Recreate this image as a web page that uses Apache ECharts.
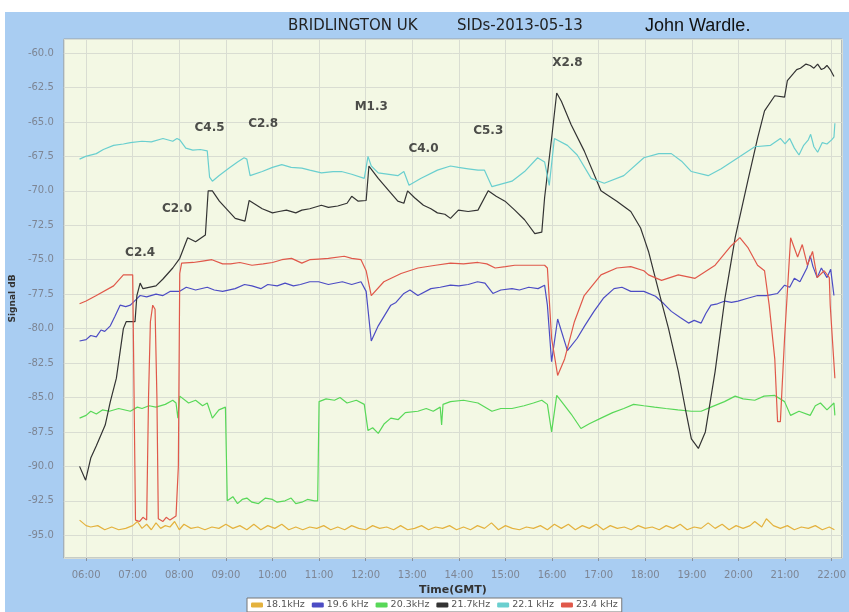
<!DOCTYPE html>
<html>
<head>
<meta charset="utf-8">
<script src="https://cdn.jsdelivr.net/npm/echarts@6/dist/echarts.min.js"></script>
<style>
  html, body { margin: 0; padding: 0; background: #fff; }
  #panel { position: absolute; left: 5px; top: 12px; width: 844px; height: 600px; background: #a9cdf2; }
  #chart { position: absolute; left: 0; top: 0; width: 849px; height: 612px; }
</style>
</head>
<body>
<div id="panel"></div>
<div id="chart"></div>
<script>
// time in hours (GMT), signal in dB
const seriesNames = ['18.1kHz', '19.6 kHz', '20.3kHz', '21.7kHz', '22.1 kHz', '23.4 kHz']
const seriesColors = ['#e4b23e', '#4c4cc4', '#58d858', '#333333', '#6acfcf', '#e0584a']

const hourTicks = [6, 7, 8, 9, 10, 11, 12, 13, 14, 15, 16, 17, 18, 19, 20, 21, 22]

const flareLabels = ['C2.4', 'C2.0', 'C4.5', 'C2.8', 'M1.3', 'C4.0', 'C5.3', 'X2.8']
const flareTimes = [7.16, 7.95, 8.65, 9.80, 12.12, 13.24, 14.63, 16.33]
const flareLevels = [-74.53, -71.34, -65.45, -65.16, -63.92, -66.98, -65.67, -60.73]

const khz181 = [
  [5.86, -93.9], [6.0, -94.3], [6.1, -94.4], [6.25, -94.3], [6.4, -94.6], [6.55, -94.4], [6.7, -94.6], [6.85, -94.5],
  [7.0, -94.3], [7.1, -94.0], [7.2, -94.5], [7.3, -94.2], [7.4, -94.6], [7.5, -94.1], [7.6, -94.5], [7.7, -94.3],
  [7.8, -94.4], [7.9, -94.0], [8.0, -94.6], [8.1, -94.2], [8.25, -94.5], [8.4, -94.4], [8.55, -94.6], [8.7, -94.4],
  [8.85, -94.5], [9.0, -94.2], [9.15, -94.5], [9.3, -94.3], [9.45, -94.6], [9.6, -94.2], [9.75, -94.6], [9.9, -94.3],
  [10.05, -94.5], [10.2, -94.2], [10.35, -94.6], [10.5, -94.4], [10.65, -94.6], [10.8, -94.4], [10.95, -94.5], [11.1, -94.3],
  [11.25, -94.6], [11.4, -94.4], [11.55, -94.6], [11.7, -94.3], [11.85, -94.5], [12.0, -94.6], [12.15, -94.3], [12.3, -94.5],
  [12.45, -94.4], [12.6, -94.6], [12.75, -94.3], [12.9, -94.6], [13.05, -94.5], [13.2, -94.3], [13.35, -94.6], [13.5, -94.4],
  [13.65, -94.5], [13.8, -94.3], [13.95, -94.6], [14.1, -94.4], [14.25, -94.6], [14.4, -94.3], [14.55, -94.5], [14.7, -94.1],
  [14.85, -94.6], [15.0, -94.3], [15.15, -94.5], [15.3, -94.6], [15.45, -94.4], [15.6, -94.5], [15.75, -94.3], [15.9, -94.6],
  [16.05, -94.2], [16.2, -94.5], [16.35, -94.2], [16.5, -94.6], [16.65, -94.3], [16.8, -94.5], [16.95, -94.2], [17.1, -94.6],
  [17.25, -94.3], [17.4, -94.5], [17.55, -94.4], [17.7, -94.6], [17.85, -94.3], [18.0, -94.5], [18.15, -94.4], [18.3, -94.6],
  [18.45, -94.3], [18.6, -94.5], [18.75, -94.2], [18.9, -94.6], [19.05, -94.4], [19.2, -94.5], [19.35, -94.1], [19.5, -94.5],
  [19.65, -94.2], [19.8, -94.6], [19.95, -94.3], [20.1, -94.5], [20.25, -94.3], [20.35, -94.0], [20.5, -94.4], [20.6, -93.8],
  [20.75, -94.3], [20.9, -94.5], [21.05, -94.3], [21.2, -94.6], [21.35, -94.4], [21.5, -94.5], [21.65, -94.3], [21.8, -94.6],
  [21.95, -94.4], [22.06, -94.6]
]

const khz196 = [
  [5.86, -80.9], [6.0, -80.8], [6.1, -80.5], [6.22, -80.6], [6.32, -80.1], [6.40, -80.2], [6.52, -79.8], [6.62, -79.1],
  [6.73, -78.3], [6.85, -78.4], [6.95, -78.3], [7.07, -77.9], [7.16, -77.6], [7.3, -77.7], [7.5, -77.5], [7.65, -77.6],
  [7.8, -77.3], [8.0, -77.3], [8.15, -77.0], [8.35, -77.2], [8.6, -77.0], [8.75, -77.2], [8.93, -77.3], [9.2, -77.1],
  [9.4, -76.8], [9.56, -76.9], [9.75, -77.1], [9.9, -76.8], [10.1, -76.9], [10.27, -76.7], [10.45, -76.9], [10.6, -76.8],
  [10.8, -76.6], [10.99, -76.6], [11.2, -76.8], [11.5, -76.6], [11.7, -76.8], [11.90, -76.6], [12.01, -77.3], [12.12, -80.9],
  [12.27, -79.8], [12.54, -78.3], [12.65, -78.1], [12.82, -77.45], [12.95, -77.2], [13.12, -77.6], [13.4, -77.1], [13.6, -77.0],
  [13.82, -76.85], [14.0, -76.9], [14.2, -76.8], [14.4, -76.6], [14.56, -76.7], [14.73, -77.45], [14.9, -77.2], [15.14, -77.1],
  [15.3, -77.2], [15.5, -77.0], [15.7, -77.1], [15.84, -76.85], [15.90, -78.3], [15.99, -82.4], [16.12, -79.3], [16.33, -81.6],
  [16.54, -80.7], [16.7, -79.8], [16.90, -78.75], [17.1, -77.8], [17.33, -77.1], [17.5, -77.0], [17.69, -77.3], [17.97, -77.3],
  [18.22, -77.65], [18.4, -78.2], [18.56, -78.75], [18.75, -79.2], [18.93, -79.6], [19.05, -79.4], [19.20, -79.6], [19.3, -78.9],
  [19.41, -78.3], [19.55, -78.2], [19.71, -78.0], [19.85, -78.1], [19.99, -78.0], [20.2, -77.8], [20.41, -77.6], [20.6, -77.6],
  [20.84, -77.45], [20.99, -76.85], [21.1, -77.0], [21.20, -76.35], [21.32, -76.6], [21.41, -76.0], [21.47, -75.6], [21.54, -74.7],
  [21.6, -75.5], [21.69, -76.3], [21.78, -75.6], [21.90, -76.3], [21.98, -75.7], [22.05, -77.6]
]

const khz203 = [
  [5.86, -86.5], [6.0, -86.3], [6.1, -86.0], [6.22, -86.2], [6.35, -85.9], [6.5, -86.0], [6.7, -85.8], [6.95, -86.0],
  [7.1, -85.7], [7.2, -85.8], [7.35, -85.6], [7.50, -85.7], [7.7, -85.5], [7.86, -85.2], [7.93, -85.4], [7.97, -86.5],
  [8.01, -84.9], [8.2, -85.4], [8.35, -85.2], [8.50, -85.6], [8.6, -85.4], [8.71, -86.5], [8.85, -85.9], [8.99, -85.7],
  [9.03, -92.5], [9.15, -92.2], [9.25, -92.7], [9.35, -92.4], [9.45, -92.3], [9.56, -92.6], [9.7, -92.7], [9.85, -92.3],
  [10.0, -92.4], [10.1, -92.6], [10.27, -92.5], [10.4, -92.3], [10.5, -92.7], [10.63, -92.6], [10.75, -92.4], [10.90, -92.5],
  [10.97, -92.5], [11.0, -85.3], [11.15, -85.1], [11.33, -85.2], [11.45, -85.0], [11.6, -85.4], [11.8, -85.2], [11.97, -85.5],
  [12.05, -87.4], [12.15, -87.2], [12.27, -87.6], [12.4, -86.9], [12.54, -86.5], [12.7, -86.6], [12.85, -86.1], [13.12, -86.0],
  [13.3, -85.8], [13.45, -86.0], [13.6, -85.7], [13.63, -87.0], [13.66, -85.5], [13.82, -85.3], [14.1, -85.2], [14.41, -85.4],
  [14.71, -86.0], [14.9, -85.8], [15.14, -85.8], [15.4, -85.6], [15.6, -85.4], [15.78, -85.2], [15.90, -85.5], [15.99, -87.5],
  [16.10, -84.85], [16.25, -85.5], [16.41, -86.2], [16.62, -87.25], [16.8, -86.9], [17.05, -86.5], [17.3, -86.1], [17.54, -85.8],
  [17.75, -85.5], [17.97, -85.6], [18.2, -85.7], [18.44, -85.8], [18.7, -85.9], [18.99, -86.0], [19.2, -86.0], [19.41, -85.7],
  [19.7, -85.3], [19.93, -84.9], [20.1, -85.1], [20.35, -85.2], [20.55, -84.9], [20.78, -84.85], [20.99, -85.3], [21.12, -86.3],
  [21.3, -86.0], [21.54, -86.3], [21.65, -85.6], [21.76, -85.4], [21.90, -85.9], [22.05, -85.4], [22.07, -86.3]
]

const khz217 = [
  [5.86, -90.0], [5.99, -91.0], [6.10, -89.4], [6.22, -88.5], [6.41, -87.0], [6.52, -85.3], [6.65, -83.6], [6.80, -80.0],
  [6.86, -79.5], [7.05, -79.5], [7.09, -77.6], [7.16, -76.7], [7.22, -77.1], [7.50, -76.9], [7.65, -76.4], [7.86, -75.6],
  [8.01, -74.9], [8.18, -73.4], [8.35, -73.7], [8.56, -73.2], [8.62, -70.0], [8.71, -70.0], [8.86, -70.75], [9.20, -72.0],
  [9.41, -72.2], [9.50, -70.7], [9.78, -71.3], [10.0, -71.6], [10.14, -71.5], [10.3, -71.4], [10.5, -71.6], [10.63, -71.4],
  [10.8, -71.3], [11.05, -71.05], [11.2, -71.2], [11.4, -71.1], [11.6, -70.9], [11.7, -70.4], [11.84, -70.75], [12.01, -70.7],
  [12.07, -68.2], [12.27, -69.1], [12.5, -70.0], [12.69, -70.75], [12.82, -70.9], [12.90, -70.0], [13.05, -70.5], [13.24, -71.05],
  [13.4, -71.3], [13.54, -71.6], [13.7, -71.7], [13.82, -72.0], [13.99, -71.4], [14.2, -71.5], [14.41, -71.4], [14.63, -70.0],
  [14.8, -70.4], [14.99, -70.75], [15.2, -71.4], [15.41, -72.1], [15.63, -73.1], [15.78, -73.0], [15.84, -70.5], [15.99, -66.2],
  [16.10, -62.9], [16.20, -63.5], [16.41, -65.2], [16.69, -67.1], [17.05, -70.0], [17.39, -70.75], [17.69, -71.5], [17.90, -72.7],
  [17.97, -73.4], [18.07, -74.4], [18.29, -77.3], [18.50, -80.0], [18.71, -83.1], [18.86, -85.8], [18.99, -88.0], [19.14, -88.7],
  [19.29, -87.5], [19.50, -83.1], [19.71, -77.8], [19.93, -73.4], [20.20, -69.3], [20.41, -66.2], [20.56, -64.2], [20.78, -63.1],
  [20.99, -63.2], [21.05, -62.0], [21.15, -61.6], [21.25, -61.2], [21.33, -61.1], [21.45, -60.8], [21.54, -60.9], [21.62, -61.1],
  [21.7, -60.8], [21.78, -61.2], [21.84, -61.1], [21.9, -60.9], [21.97, -61.2], [22.05, -61.7]
]

const khz221 = [
  [5.86, -67.7], [5.99, -67.5], [6.22, -67.3], [6.37, -67.0], [6.59, -66.7], [6.80, -66.6], [6.95, -66.5], [7.2, -66.4],
  [7.4, -66.45], [7.65, -66.2], [7.86, -66.4], [7.95, -66.2], [8.01, -66.3], [8.14, -66.9], [8.29, -67.05], [8.45, -67.0],
  [8.60, -67.1], [8.65, -69.0], [8.71, -69.3], [8.85, -68.9], [9.07, -68.35], [9.25, -67.9], [9.39, -67.6], [9.45, -67.7],
  [9.52, -68.9], [9.78, -68.6], [10.0, -68.3], [10.2, -68.1], [10.4, -68.3], [10.63, -68.35], [10.8, -68.5], [11.05, -68.7],
  [11.3, -68.6], [11.48, -68.6], [11.7, -68.8], [11.97, -69.1], [12.05, -67.5], [12.12, -68.2], [12.27, -68.7], [12.5, -68.8],
  [12.69, -68.9], [12.82, -68.6], [12.93, -69.6], [13.18, -69.1], [13.54, -68.5], [13.82, -68.2], [13.99, -68.3], [14.2, -68.4],
  [14.41, -68.5], [14.55, -68.5], [14.63, -69.1], [14.71, -69.7], [15.14, -69.3], [15.41, -68.6], [15.69, -67.6], [15.84, -67.9],
  [15.94, -69.6], [16.05, -66.2], [16.33, -66.7], [16.54, -67.4], [16.84, -69.1], [17.12, -69.45], [17.54, -68.9], [17.97, -67.6],
  [18.29, -67.3], [18.56, -67.3], [18.78, -67.85], [18.99, -68.6], [19.35, -68.9], [19.63, -68.4], [19.99, -67.6], [20.35, -66.8],
  [20.69, -66.7], [20.9, -66.2], [21.0, -66.6], [21.1, -66.2], [21.2, -66.9], [21.3, -67.4], [21.4, -66.7], [21.5, -66.3],
  [21.55, -65.9], [21.62, -66.8], [21.7, -67.2], [21.8, -66.5], [21.9, -66.6], [22.0, -66.3], [22.05, -66.1], [22.07, -65.1]
]

const khz234 = [
  [5.86, -78.2], [6.0, -78.0], [6.22, -77.6], [6.59, -76.9], [6.80, -76.1], [7.0, -76.1], [7.02, -76.2], [7.06, -93.9],
  [7.15, -94.0], [7.22, -93.7], [7.30, -93.9], [7.34, -85.0], [7.38, -79.5], [7.43, -78.3], [7.48, -78.6], [7.52, -85.0],
  [7.55, -93.8], [7.65, -94.0], [7.72, -93.7], [7.80, -93.9], [7.93, -93.6], [7.98, -90.0], [8.01, -76.0], [8.05, -75.25],
  [8.3, -75.2], [8.50, -75.1], [8.7, -75.0], [8.93, -75.3], [9.1, -75.3], [9.3, -75.2], [9.56, -75.4], [9.8, -75.3],
  [10.0, -75.2], [10.2, -75.0], [10.41, -74.9], [10.63, -75.25], [10.8, -75.0], [10.99, -74.95], [11.2, -74.9], [11.54, -74.75],
  [11.7, -74.9], [11.90, -75.0], [12.01, -75.8], [12.12, -77.6], [12.39, -76.6], [12.76, -76.0], [13.12, -75.6], [13.5, -75.4],
  [13.82, -75.25], [14.1, -75.3], [14.41, -75.2], [14.6, -75.3], [14.78, -75.6], [15.0, -75.5], [15.2, -75.4], [15.5, -75.4],
  [15.84, -75.4], [15.90, -75.6], [15.99, -80.7], [16.12, -83.4], [16.27, -82.2], [16.48, -79.5], [16.69, -77.6], [17.05, -76.1],
  [17.39, -75.6], [17.69, -75.5], [17.97, -75.8], [18.07, -76.1], [18.35, -76.5], [18.71, -76.1], [19.07, -76.35], [19.50, -75.4],
  [19.84, -74.0], [20.03, -73.4], [20.20, -74.1], [20.41, -75.4], [20.56, -75.8], [20.66, -78.3], [20.78, -82.2], [20.84, -86.75],
  [20.90, -86.75], [20.99, -80.7], [21.12, -73.4], [21.27, -74.8], [21.37, -73.9], [21.48, -75.4], [21.59, -74.4], [21.69, -76.3],
  [21.84, -75.8], [21.95, -76.3], [21.97, -78.3], [22.07, -83.6]
]

const seriesData = [khz181, khz196, khz203, khz217, khz221, khz234]

const chart = echarts.init(document.getElementById('chart'))

const isStep = (v, step) => Math.abs(v / step - Math.round(v / step)) < 1e-6

const lineSeries = seriesNames.map((name, i) => ({
  name,
  type: 'line',
  data: seriesData[i],
  showSymbol: false,
  symbol: 'none',
  lineStyle: { width: 1.2, color: seriesColors[i] },
  itemStyle: { color: seriesColors[i] },
  z: 3
}))

chart.setOption({
  animation: false,
  title: [
    { text: 'BRIDLINGTON UK', left: 283, top: 14, textStyle: { fontFamily: 'DejaVu Sans', fontSize: 15, fontWeight: 'normal', color: '#222' } },
    { text: 'SIDs-2013-05-13', left: 452, top: 14, textStyle: { fontFamily: 'DejaVu Sans', fontSize: 15, fontWeight: 'normal', color: '#222' } },
    { text: 'John Wardle.', left: 640, top: 12, textStyle: { fontFamily: 'Liberation Sans', fontSize: 18, fontWeight: 'normal', color: '#111' } }
  ],
  grid: {
    left: 61, right: 4, top: 39, bottom: 54,
    show: true, backgroundColor: '#f3f8e4', borderColor: '#9aa3a8', borderWidth: 1
  },
  legend: {
    data: seriesNames,
    bottom: 0,
    left: 247,
    icon: 'roundRect',
    itemWidth: 12,
    itemHeight: 5,
    itemGap: 7,
    padding: [2, 4],
    backgroundColor: '#fff',
    borderColor: '#777',
    borderWidth: 1,
    borderRadius: 0,
    textStyle: { fontFamily: 'DejaVu Sans', fontSize: 9.5, color: '#555', padding: [0, 0, 0, -2] }
  },
  xAxis: {
    type: 'value',
    min: 5.521,
    max: 22.219,
    minInterval: 1,
    maxInterval: 1,
    name: 'Time(GMT)',
    nameLocation: 'middle',
    nameGap: 26,
    nameTextStyle: { fontFamily: 'DejaVu Sans', fontSize: 11, fontWeight: 'bold', color: '#333' },
    axisLine: { show: false },
    axisTick: { show: true, length: 3, lineStyle: { color: '#8a93a0' } },
    axisLabel: {
      margin: 12,
      fontFamily: 'DejaVu Sans',
      fontSize: 10,
      color: '#7d8594',
      showMinLabel: false,
      showMaxLabel: false,
      formatter: v => isStep(v, 1) && hourTicks.includes(Math.round(v)) ? String(Math.round(v)).padStart(2, '0') + ':00' : ''
    },
    splitLine: { show: true, lineStyle: { color: '#d9ddd2', width: 1 } }
  },
  yAxis: {
    type: 'value',
    min: -96.65,
    max: -58.98,
    minInterval: 2.5,
    maxInterval: 2.5,
    name: 'Signal dB',
    nameLocation: 'middle',
    nameGap: 44,
    nameRotate: 90,
    nameTextStyle: { fontFamily: 'DejaVu Sans', fontSize: 9, fontWeight: 'bold', color: '#333' },
    axisLine: { show: false },
    axisTick: { show: false },
    axisLabel: {
      margin: 10,
      fontFamily: 'DejaVu Sans',
      fontSize: 10,
      color: '#7d8594',
      showMinLabel: false,
      showMaxLabel: false,
      formatter: v => isStep(v, 2.5) ? v.toFixed(1) : ''
    },
    splitLine: { show: true, lineStyle: { color: '#d9ddd2', width: 1 } }
  },
  series: [
    ...lineSeries,
    {
      name: 'flares',
      type: 'scatter',
      symbolSize: 0,
      z: 5,
      data: flareLabels.map((label, i) => ({ name: label, value: [flareTimes[i], flareLevels[i]] })),
      label: {
        show: true,
        position: 'inside',
        formatter: p => p.name,
        fontFamily: 'DejaVu Sans',
        fontSize: 12,
        fontWeight: 'bold',
        color: '#222'
      }
    }
  ]
})
</script>
</body>
</html>
